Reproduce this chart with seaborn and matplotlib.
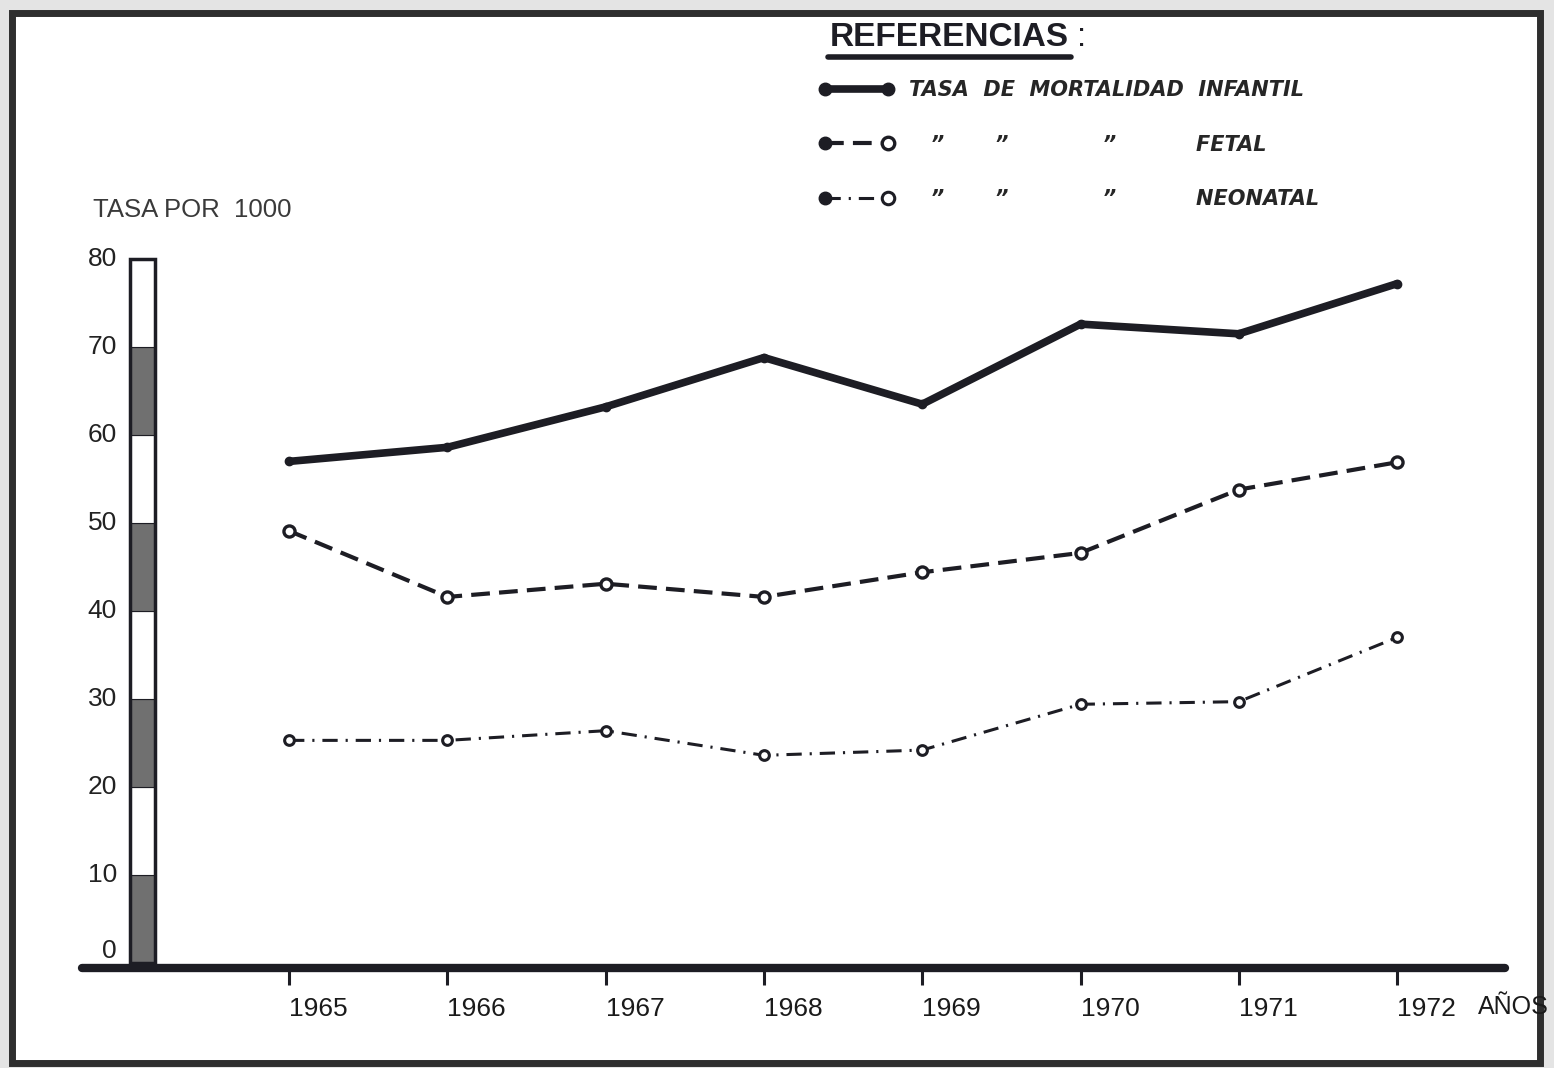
import matplotlib
matplotlib.use('Agg')
import matplotlib.pyplot as plt
import seaborn as sns
from matplotlib.lines import Line2D
from matplotlib.patches import Rectangle
from matplotlib.legend_handler import HandlerBase
from matplotlib.transforms import IdentityTransform

# Data (tasa por 1000)
years = [1965, 1966, 1967, 1968, 1969, 1970, 1971, 1972]
infantil = [57.0, 58.6, 63.2, 68.8, 63.5, 72.6, 71.5, 77.2]
fetal = [49.1, 41.6, 43.1, 41.6, 44.4, 46.6, 53.8, 56.9]
neonatal = [25.3, 25.3, 26.4, 23.6, 24.2, 29.4, 29.7, 37.0]

y_ticks = [0, 10, 20, 30, 40, 50, 60, 70, 80]
scale_steps = [0, 10, 20, 30, 40, 50, 60, 70]

legend_labels = [
    'TASA  DE  MORTALIDAD  INFANTIL',
    '   \u201d       \u201d             \u201d           FETAL',
    '   \u201d       \u201d             \u201d           NEONATAL',
]

sns.set_style('white')
plt.rcParams['font.family'] = ['Liberation Sans', 'DejaVu Sans']

ink = '#1d1d24'
grey = '#707070'

fig = plt.figure(figsize=(15.54, 10.68), dpi=100)
fig.patch.set_facecolor('#e4e4e4')
# scanned sheet with dark frame
fig.add_artist(Rectangle((0.0077, 0.0047), 0.9833, 0.9831, transform=fig.transFigure,
                         facecolor='white', edgecolor='#2e2e2e', lw=5, zorder=-1))

ax = fig.add_axes([0.0528, 0.0936, 0.9157, 0.6723])
ax.set_facecolor('none')

# striped scale bar on the left
for i, step in enumerate(scale_steps):
    ax.bar(1964.074, 10, bottom=step, width=0.158,
           color=grey if i % 2 == 0 else 'white', edgecolor=ink, lw=0.8)
ax.bar(1964.074, 80, bottom=0, width=0.158, fill=False, edgecolor=ink, lw=2.5)

for v in y_ticks:
    ax.text(1963.913, v if v > 0 else 1.4, str(v), ha='right', va='center',
            fontsize=19, color='#222222')

sns.lineplot(x=years, y=infantil, ax=ax, color=ink, lw=5.5, marker='o', ms=6,
             mfc=ink, mec=ink, mew=1, solid_joinstyle='round', solid_capstyle='round')
sns.lineplot(x=years, y=fetal, ax=ax, color=ink, lw=3, linestyle=(0, (4.5, 2.2)),
             marker='o', ms=8, mfc='white', mec=ink, mew=2.4)
sns.lineplot(x=years, y=neonatal, ax=ax, color=ink, lw=2.2,
             linestyle=(0, (5, 2.6, 0.7, 2.6)),
             marker='o', ms=7, mfc='white', mec=ink, mew=2.2)

ax.set_xlim(1963.692, 1972.682)
ax.set_ylim(-0.57, 81.02)
ax.set_xticks(years)
ax.set_xticklabels([str(y) for y in years], ha='left', fontsize=19, color='#1a1a1a')
ax.set_yticks([])
ax.tick_params(axis='x', direction='out', length=12, width=2.2, color=ink, pad=9,
               bottom=True)
for side in ['left', 'top', 'right']:
    ax.spines[side].set_visible(False)
ax.spines['bottom'].set_linewidth(6)
ax.spines['bottom'].set_color(ink)
ax.spines['bottom'].set_capstyle('round')
ax.set_xlabel('')
ax.set_ylabel('')

fig.text(93 / 1554, 1 - 210 / 1068, 'TASA POR  1000', fontsize=18.5, color='#3a3a3a',
         ha='left', va='center')
fig.text(1478 / 1554, 1 - 1007 / 1068, 'A\u00d1OS', fontsize=18, color='#1a1a1a',
         ha='left', va='center')

# legend block
title = fig.text(830 / 1554, 1 - 38 / 1068, 'REFERENCIAS', fontsize=24,
                 fontweight='bold', color=ink, ha='left', va='center')
fig.canvas.draw()
bb = title.get_window_extent(fig.canvas.get_renderer())
fig.text((bb.x1 + 8) / 1554, 1 - 38 / 1068, ':', fontsize=24, color=ink, ha='left', va='center')
fig.add_artist(Line2D([bb.x0 - 2, bb.x1 + 2], [1068 - 57, 1068 - 57], transform=IdentityTransform(),
                      color=ink, lw=4, solid_capstyle='round'))


class EndsHandler(HandlerBase):
    # line sample with a filled dot on the left and the series marker on the right
    def create_artists(self, legend, orig_handle, xdescent, ydescent,
                       width, height, fontsize, trans):
        y = height / 2 - ydescent
        x0, x1 = -xdescent, width - xdescent
        line = Line2D([x0, x1], [y, y])
        line.update_from(orig_handle)
        line.set_marker('')
        line.set_clip_box(None)
        line.set_clip_path(None)
        left = Line2D([x0], [y], ls='', marker='o', ms=9, mfc=ink, mec=ink)
        right = Line2D([x1], [y], ls='', marker='o', ms=max(orig_handle.get_markersize(), 8) + 1,
                       mfc=orig_handle.get_markerfacecolor(), mec=ink,
                       mew=orig_handle.get_markeredgewidth())
        for a in (line, left, right):
            a.set_transform(trans)
        return [line, left, right]


handles = ax.lines[:3]
ax.legend(handles, legend_labels, loc='upper left', bbox_to_anchor=(825 / 1554, 1 - 80 / 1068),
          bbox_transform=fig.transFigure, frameon=False, handler_map={Line2D: EndsHandler()},
          prop={'family': 'DejaVu Sans', 'weight': 'bold', 'style': 'italic', 'size': 15},
          handlelength=3.0, handletextpad=1.05, labelspacing=1.66, borderpad=0, borderaxespad=0)

plt.savefig('out.png', dpi=100, facecolor=fig.get_facecolor())
